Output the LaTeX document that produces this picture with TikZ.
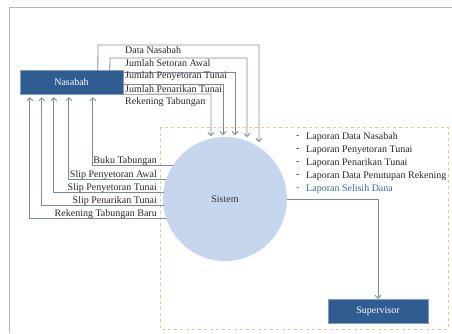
\documentclass[tikz,border=0pt]{standalone}
\usepackage{fontspec}
\setmainfont{Liberation Serif}
\usetikzlibrary{arrows.meta}
\definecolor{boxblue}{HTML}{2F5D91}
\definecolor{circblue}{HTML}{C6D6EC}
\definecolor{flow}{HTML}{7C8A9E}
\definecolor{framec}{HTML}{A9B6C6}
\definecolor{dashor}{HTML}{F2C29B}
\definecolor{linkblue}{HTML}{3B6BA3}
\begin{document}
\begin{tikzpicture}[x=1pt,y=-1pt,font=\fontsize{10}{12}\selectfont,
  flowline/.style={draw=flow,line width=0.8pt},
  arr/.style={flowline,-{Straight Barb[length=3pt,width=6pt]}},
  lbl/.style={inner sep=0pt,text=black!85},
  entity/.style={fill=boxblue,draw=boxblue!60!white,text=white,minimum height=24pt,inner sep=0pt}]
\useasboundingbox (0,0) rectangle (452,333);
\draw[framec,line width=1pt] (9,333) -- (9,7) -- (452,7);
\draw[dashor,dashed,line width=0.6pt] (160,127) rectangle (448,329);
\node[entity,minimum width=103pt] (nas) at (71.5,82) {Nasabah};
\node[entity,minimum width=100pt] (sup) at (378,311) {Supervisor};
\node[circle,fill=circblue,minimum size=124pt,inner sep=0pt,text=black!80] (sys) at (225,199) {Sistem};
% incoming flows
\coordinate (i1) at (259,142);
\coordinate (i2) at (247,137);
\coordinate (i3) at (235,135);
\coordinate (i4) at (223,135);
\coordinate (i5) at (211,136);
\draw[arr] ([xshift=78pt]nas.north west) -- (98,45) -- (259,45) -- (i1);
\draw[arr] ([xshift=90pt]nas.north west) -- (110,58) -- (247,58) -- (i2);
\draw[arr] (123,72) -- (235,72) -- (i3);
\draw[arr] (123,84) -- (223,84) -- (i4);
\draw[arr] (nas.south east) -- (211,94) -- (i5);
\node[lbl,anchor=west] (l1) at (125,50) {Data Nasabah};
\node[lbl,anchor=west] (l2) at (125,63) {Jumlah Setoran Awal};
\node[lbl,anchor=west] (l3) at (125,76.5) {Jumlah Penyetoran Tunai};
\node[lbl,anchor=west] (l4) at (125,89) {Jumlah Penarikan Tunai};
\node[lbl,anchor=west] (l5) at (125,102) {Rekening Tabungan};
% return flows
\coordinate (o1) at (173,165);
\coordinate (o2) at (166,179);
\coordinate (o3) at (164,192);
\coordinate (o4) at (164,205);
\coordinate (o5) at (166,218);
\draw[arr] (o1) -| ([xshift=73pt,yshift=-3pt]nas.south west);
\draw[arr] (o2) -| ([xshift=49pt,yshift=-3pt]nas.south west);
\draw[arr] (o3) -| ([xshift=34pt,yshift=-3pt]nas.south west);
\draw[arr] (o4) -| ([xshift=22pt,yshift=-3pt]nas.south west);
\draw[arr] (o5) -| ([xshift=10pt,yshift=-3pt]nas.south west);
\node[lbl,anchor=east] (r1) at (157,161) {Buku Tabungan};
\node[lbl,anchor=east] (r2) at (157,175) {Slip Penyetoran Awal};
\node[lbl,anchor=east] (r3) at (157,188) {Slip Penyetoran Tunai};
\node[lbl,anchor=east] (r4) at (157,201) {Slip Penarikan Tunai};
\node[lbl,anchor=east] (r5) at (157,214) {Rekening Tabungan Baru};
% output
\draw[arr] (sys.east) -| (sup.north);
% report list
\foreach \y/\t/\n in {137/Laporan Data Nasabah/1,150/Laporan Penyetoran Tunai/2,163/Laporan Penarikan Tunai/3,176/Laporan Data Penutupan Rekening/4}{
  \node[lbl,anchor=west] (d\n) at (296,\y) {-};
  \node[lbl,anchor=west] (b\n) at (306,\y) {\t};
}
\node[lbl,anchor=west,text=linkblue] (d5) at (296,189.5) {-};
\node[lbl,anchor=west,text=linkblue] (b5) at (306,189.5) {Laporan Selisih Dana};
\end{tikzpicture}
\end{document}
